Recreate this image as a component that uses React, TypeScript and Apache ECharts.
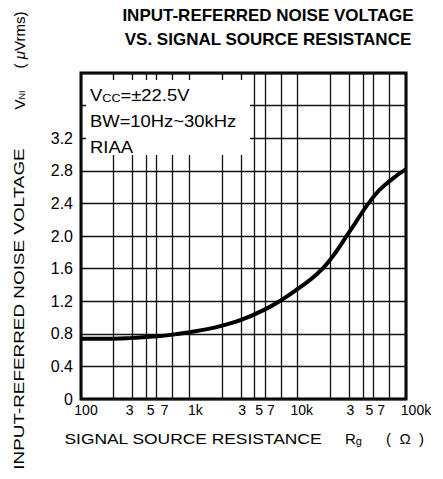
import React, { useEffect, useRef } from "react";
import * as echarts from "echarts";

const resistance = [100, 150, 200, 300, 500, 700, 1000, 1500, 2000, 3000, 5000, 7000, 10000, 15000, 20000, 30000, 50000, 70000, 100000];
const noise = [0.74, 0.74, 0.74, 0.75, 0.77, 0.79, 0.82, 0.86, 0.9, 0.97, 1.1, 1.21, 1.35, 1.53, 1.71, 2.05, 2.48, 2.67, 2.82];

const gridX = [100, 200, 300, 400, 500, 700, 1000, 2000, 3000, 4000, 5000, 7000, 10000, 20000, 30000, 40000, 50000, 70000, 100000];
const tickX = [100, 300, 500, 700, 1000, 3000, 5000, 7000, 10000, 30000, 50000, 70000, 100000];
const tickXLabels = ["100", "3", "5", "7", "1k", "3", "5", "7", "10k", "3", "5", "7", "100k"];
const tickXOffsets = [5, -3, -6, -8, 6, 1, -6, -10, 4, 1, -4, -8, 10];

const titleLines = ["INPUT-REFERRED NOISE VOLTAGE", "VS. SIGNAL SOURCE RESISTANCE"];
const conditions = ["V{s|CC}=±22.5V", "BW=10Hz~30kHz", "RIAA"];

const FONT = "Liberation Sans, Arial, sans-serif";

export default function App() {
  const ref = useRef<HTMLDivElement>(null);
  useEffect(() => {
    if (!ref.current) return;
    const chart = echarts.init(ref.current, undefined, { renderer: "svg" });
    const lineData: any[] = gridX.map((v) => {
      const k = tickX.indexOf(v);
      if (k < 0) return { xAxis: v, label: { show: false } };
      return {
        xAxis: v,
        label: {
          show: true,
          position: "start",
          formatter: tickXLabels[k],
          distance: 4,
          offset: [tickXOffsets[k], 0],
          color: "#000",
          fontSize: 14,
          fontFamily: FONT,
        },
      };
    });
    const option: any = {
      animation: false,
      backgroundColor: "#fff",
      grid: {
        left: 81,
        top: 73,
        right: 37,
        bottom: 80,
        show: true,
        borderColor: "#000",
        borderWidth: 3,
        containLabel: false,
      },
      xAxis: {
        type: "log",
        logBase: 10,
        min: 100,
        max: 100000,
        axisLine: { show: false },
        axisTick: { show: false },
        axisLabel: { show: false },
        splitLine: { show: false },
        minorSplitLine: { show: false },
      },
      yAxis: {
        type: "value",
        min: 0,
        max: 4,
        interval: 0.4,
        axisLine: { show: false },
        axisTick: { show: false },
        axisLabel: {
          color: "#000",
          fontSize: 16,
          fontFamily: FONT,
          margin: 8,
          formatter: (v: number) => (v > 3.3 ? "" : v === 0 ? "0" : v.toFixed(1)),
        },
        splitLine: { show: true, lineStyle: { color: "#111", width: 1.3 } },
      },
      series: [
        {
          type: "line",
          data: resistance.map((r, i) => [r, noise[i]]),
          smooth: 0.5,
          showSymbol: false,
          symbol: "none",
          lineStyle: { color: "#000", width: 4 },
          z: 5,
          markLine: {
            silent: true,
            symbol: ["none", "none"],
            animation: false,
            lineStyle: { color: "#111", width: 1.3, type: "solid" },
            data: lineData,
          },
        },
      ],
      graphic: [
        {
          type: "rect",
          z: 100,
          shape: { x: 86, y: 80, width: 164, height: 75 },
          style: { fill: "#fff" },
        },
        ...conditions.map((t, i) => ({
          type: "text",
          z: 101,
          x: 90,
          y: 95 + i * 26,
          scaleX: 1.15,
          style: {
            text: t,
            font: `16px ${FONT}`,
            fill: "#000",
            verticalAlign: "middle",
            rich: {
              s: { fontSize: 11, fontFamily: FONT, verticalAlign: "bottom", padding: [6, 0, 0, 0] },
            },
          },
        })),
        ...titleLines.map((t, i) => ({
          type: "text",
          x: 268,
          y: 15 + i * 24,
          style: {
            text: t,
            font: `bold 17px ${FONT}`,
            fill: "#000",
            align: "center",
            verticalAlign: "middle",
          },
        })),
        {
          type: "text",
          x: 19,
          y: 309,
          rotation: Math.PI / 2,
          scaleX: 1.26,
          style: { text: "INPUT-REFERRED NOISE VOLTAGE", font: `15px ${FONT}`, fill: "#000", align: "center", verticalAlign: "middle" },
        },
        {
          type: "text",
          x: 19,
          y: 100,
          rotation: Math.PI / 2,
          style: {
            text: "V{s|NI}",
            font: `15px ${FONT}`,
            fill: "#000",
            align: "center",
            verticalAlign: "middle",
            rich: { s: { fontSize: 9, fontFamily: FONT, padding: [6, 0, 0, 0] } },
          },
        },
        {
          type: "text",
          x: 19,
          y: 40,
          rotation: Math.PI / 2,
          style: {
            text: "( {i|μ}Vrms)",
            font: `15px ${FONT}`,
            fill: "#000",
            align: "center",
            verticalAlign: "middle",
            rich: { i: { fontSize: 15, fontFamily: FONT, fontStyle: "italic" } },
          },
        },
        {
          type: "text",
          x: 193,
          y: 438,
          scaleX: 1.16,
          style: { text: "SIGNAL SOURCE RESISTANCE", font: `15px ${FONT}`, fill: "#000", align: "center", verticalAlign: "middle" },
        },
        {
          type: "text",
          x: 345,
          y: 438,
          style: {
            text: "R{s|g}",
            font: `15px ${FONT}`,
            fill: "#000",
            verticalAlign: "middle",
            rich: { s: { fontSize: 11, fontFamily: FONT, padding: [5, 0, 0, 0] } },
          },
        },
        {
          type: "text",
          x: 405,
          y: 438,
          style: { text: "(  Ω  )", font: `15px ${FONT}`, fill: "#000", align: "center", verticalAlign: "middle" },
        },
      ],
    };
    chart.setOption(option);
    return () => chart.dispose();
  }, []);
  return <div ref={ref} style={{ width: 443, height: 479, position: "absolute", left: 0, top: 0 }} />;
}
